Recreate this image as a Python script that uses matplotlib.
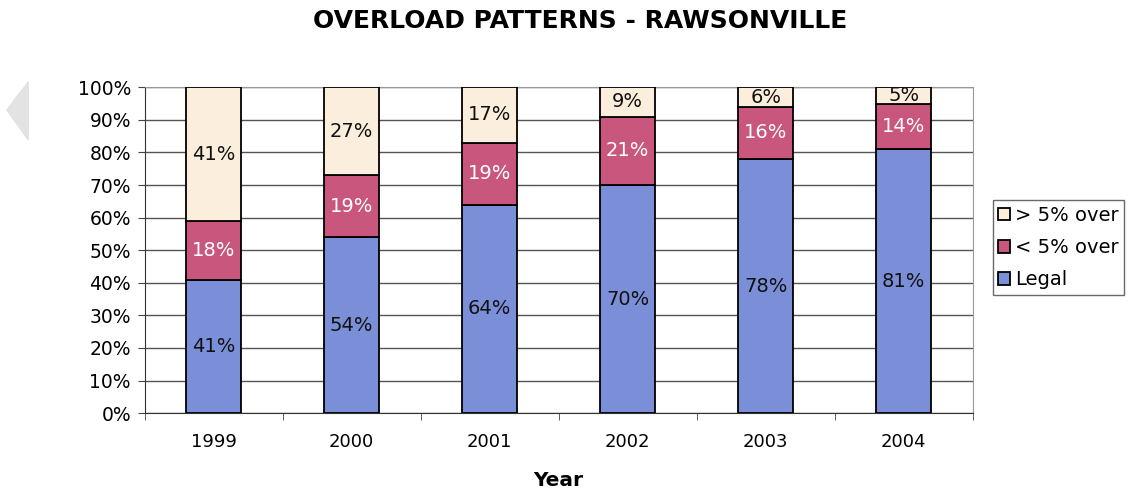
import numpy as np
import matplotlib.pyplot as plt
from matplotlib.patches import Polygon

years = ["1999", "2000", "2001", "2002", "2003", "2004"]
legal = [41, 54, 64, 70, 78, 81]
under5 = [18, 19, 19, 21, 16, 14]
over5 = [41, 27, 17, 9, 6, 5]

plt.rcParams["font.family"] = ["DejaVu Sans"]

fig = plt.figure(figsize=(11.31, 4.93), dpi=100)
ax = fig.add_axes([0.128, 0.162, 0.732, 0.661])

# faint grey arrow on the left edge of the screenshot
fig.patches.append(Polygon([[0.006, 0.777], [0.025, 0.834], [0.025, 0.716]], closed=True,
                           transform=fig.transFigure, color="#e3e3e3", zorder=0))

x = np.arange(len(years))
w = 0.4
c_legal = "#7b8fd9"
c_under = "#c9567c"
c_over = "#fbeedc"

b1 = ax.bar(x, legal, w, color=c_legal, edgecolor="black", linewidth=1.3, label="Legal", zorder=3)
b2 = ax.bar(x, under5, w, bottom=legal, color=c_under, edgecolor="black", linewidth=1.3,
            label="< 5% over", zorder=3)
b3 = ax.bar(x, over5, w, bottom=np.array(legal) + np.array(under5), color=c_over,
            edgecolor="black", linewidth=1.3, label="> 5% over", zorder=3)

for i in range(len(years)):
    ax.text(x[i], legal[i] / 2, f"{legal[i]}%", ha="center", va="center", fontsize=14, color="#111111", zorder=4)
    ax.text(x[i], legal[i] + under5[i] / 2, f"{under5[i]}%", ha="center", va="center", fontsize=14, color="white", zorder=4)
    top = legal[i] + under5[i]
    ax.text(x[i], top + over5[i] / 2, f"{over5[i]}%", ha="center", va="center", fontsize=14, color="#111111", zorder=4)

ax.set_xlim(-0.5, len(years) - 0.5)
ax.set_ylim(0, 100)
ax.set_yticks(np.arange(0, 101, 10))
ax.set_yticklabels([f"{v}%" for v in range(0, 101, 10)], fontsize=13.5)
ax.set_xticks(x)
ax.set_xticklabels(years, fontsize=13)
ax.tick_params(axis="x", length=0, pad=14)
ax.set_xticks(np.arange(-0.5, len(years)), minor=True)
ax.tick_params(axis="x", which="minor", length=5, direction="out", color="#444444")
ax.tick_params(axis="y", length=5, pad=5, color="#444444")

ax.yaxis.grid(True, color="#555555", linewidth=1.0, zorder=0)
ax.set_axisbelow(True)
ax.spines["left"].set_color("#333333")
ax.spines["bottom"].set_color("#333333")
ax.spines["top"].set_color("#999999")
ax.spines["right"].set_color("#999999")

ax.set_xlabel("Year", fontsize=14.5, fontweight="bold", labelpad=15)
fig.text(0.513, 0.957, "OVERLOAD PATTERNS - RAWSONVILLE", ha="center", va="center",
         fontsize=18, fontweight="bold")

leg = ax.legend(handles=[b3, b2, b1], loc="upper left", bbox_to_anchor=(1.024, 0.653),
                fontsize=14, frameon=True, fancybox=False, edgecolor="#444444",
                handlelength=0.6, handleheight=0.6, handletextpad=0.25, labelspacing=0.67,
                borderpad=0.3, borderaxespad=0)
leg.get_frame().set_linewidth(1.0)

fig.savefig("out.png", dpi=100)
